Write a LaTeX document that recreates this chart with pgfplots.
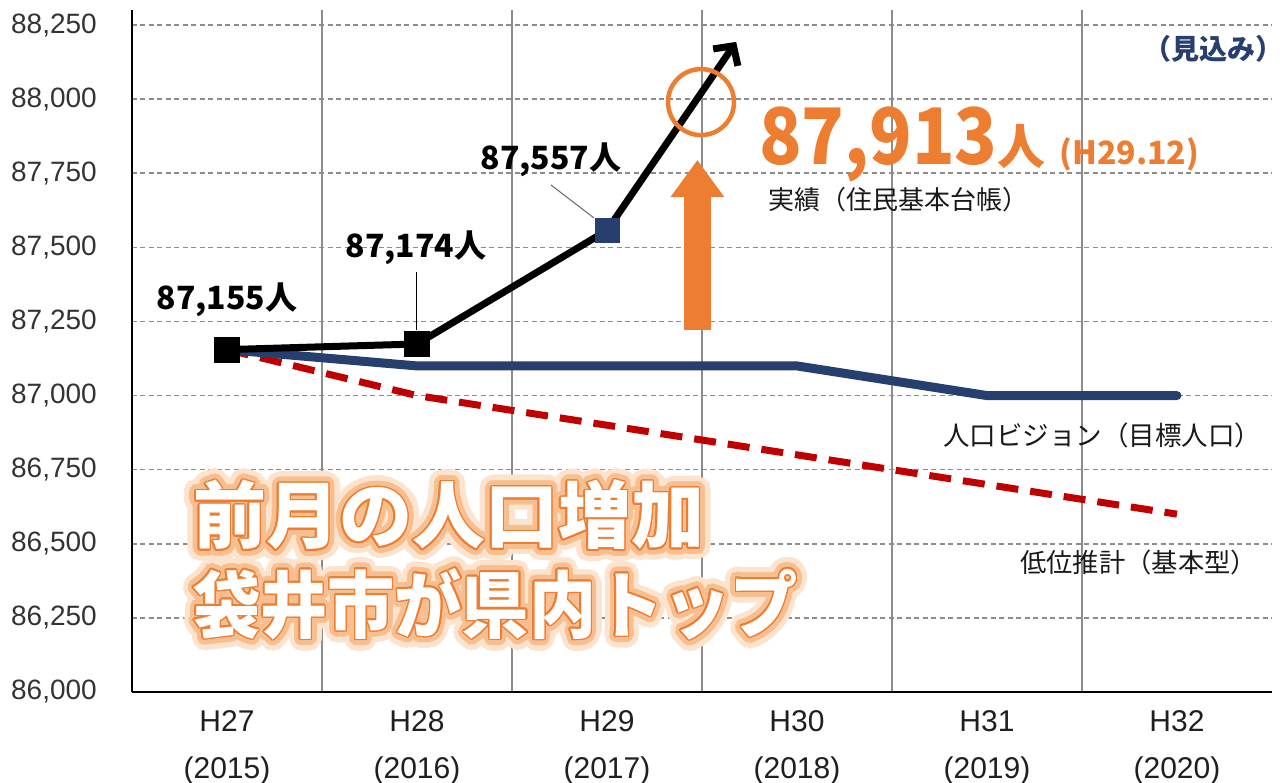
\documentclass[border=0pt]{standalone}
\usepackage{fontspec}
\usepackage{pgfplots}
\pgfplotsset{compat=1.18}
\usetikzlibrary{arrows.meta}
\usepackage{contour}
\setmainfont{Liberation Sans}
\newfontfamily\jp{Noto Sans CJK JP}
\definecolor{navy}{HTML}{263F6E}
\definecolor{dred}{HTML}{C00000}
\definecolor{orng}{HTML}{ED7D31}
\definecolor{glowA}{HTML}{FCE3CE}
\definecolor{glowB}{HTML}{F7BF90}
\definecolor{gridc}{HTML}{8C8C8C}
\newcommand\glow[1]{%
 \makebox[0pt][l]{\contournumber{28}\contourlength{12pt}\color{glowA}\contour{glowA}{#1}}%
 \makebox[0pt][l]{\contournumber{20}\contourlength{6.5pt}\color{glowB}\contour{glowB}{#1}}%
 {\contournumber{16}\contourlength{1.6pt}\color{white}\contour{orng}{#1}}}
\begin{document}
\begin{tikzpicture}
\path[use as bounding box] (-132pt,-90pt) rectangle (1153pt,692pt);
\begin{axis}[
  scale only axis, width=1140pt, height=681.8pt,
  xmin=-0.5, xmax=5.5, ymin=86000, ymax=88300,
  xtick={0,1,2,3,4,5},
  xticklabels={{H27\\(2015)},{H28\\(2016)},{H29\\(2017)},{H30\\(2018)},{H31\\(2019)},{H32\\(2020)}},
  ytick={86000,86250,86500,86750,87000,87250,87500,87750,88000,88250},
  scaled y ticks=false,
  minor xtick={0.5,1.5,2.5,3.5,4.5},
  xminorgrids, ymajorgrids,
  minor grid style={gridc, line width=1.2pt},
  major grid style={gridc, dash pattern=on 5pt off 3.5pt, line width=1.5pt},
  axis x line*=bottom, axis y line*=left,
  axis line style={black, line width=1.5pt, -},
  tick style={draw=none},
  yticklabel style={font=\fontsize{28}{28}\selectfont, text=black!80, anchor=east, inner sep=0pt, xshift=-35pt,
    /pgf/number format/fixed, /pgf/number format/1000 sep={,}},
  xticklabel style={font=\fontsize{30}{47}\selectfont, align=center, anchor=north, inner sep=0pt, yshift=-18pt, text=black!88},
  /pgf/number format/assume math mode=true,
]
\addplot[dred, line width=7pt, dash pattern=on 22pt off 12pt] coordinates {(0,87155)(1,87000)(2,86900)(3,86800)(4,86700)(5,86600)};
\addplot[navy, line width=9pt, line cap=round, line join=round] coordinates {(0,87155)(1,87100)(2,87100)(3,87100)(4,87000)(5,87000)};
\addplot[black, line width=7pt, line join=round] coordinates {(0,87155)(1,87174)(2,87557)};
\addplot[black, line width=7pt, -{Straight Barb[length=14pt, width=30pt]}] coordinates {(2,87557)(2.68,88193)};
\addplot[only marks, mark=square*, mark size=12.5pt, mark options={fill=black, draw=black, line width=0.5pt}] coordinates {(0,87155)(1,87174)};
\addplot[only marks, mark=square*, mark size=12pt, mark options={fill=navy, draw=navy, line width=0.5pt}] coordinates {(2,87557)};
\addplot[only marks, mark=o, mark size=33pt, mark options={draw=orng, line width=4.5pt}] coordinates {(2.495,87990)};
\draw[orng, line width=27pt, -{Triangle[width=51pt,length=37pt]}] (axis cs:2.476,87221) -- (axis cs:2.476,87795);
\end{axis}
\begin{scope}[shift={(-132pt,692pt)}, x=1pt, y=-1pt]
  % leader lines
  \draw[black, line width=1pt] (416,272) -- (416,330);
  \draw[black!60, line width=1pt] (551,185) -- (594,218);
  % data labels
  \node[font=\jp\bfseries\fontsize{32}{32}\selectfont, inner sep=0pt] at (227,300) {87,155人};
  \node[font=\jp\bfseries\fontsize{32}{32}\selectfont, inner sep=0pt] at (416,248) {87,174人};
  \node[font=\jp\bfseries\fontsize{32}{32}\selectfont, inner sep=0pt] at (551,160) {87,557人};
  % big orange value
  \node[anchor=base west, inner sep=0pt, text=orng, font=\jp\bfseries] at (759,165)
    {\scalebox{0.9}[1]{\fontsize{78}{78}\selectfont 87,913}{\fontsize{48}{48}\selectfont 人}\hspace{14pt}{\fontsize{32}{32}\selectfont (H29.12)}};
  \node[anchor=west, inner sep=0pt, font=\jp\fontsize{26}{26}\selectfont, text=black!90] at (768,200) {実績（住民基本台帳）};
  \node[anchor=east, inner sep=0pt, font=\jp\bfseries\fontsize{28}{28}\selectfont, text=navy] at (1284,49) {（見込み）};
  \node[anchor=west, inner sep=0pt, font=\jp\fontsize{26.5}{26.5}\selectfont, text=black!90] at (943,435) {人口ビジョン（目標人口）};
  \node[anchor=west, inner sep=0pt, font=\jp\fontsize{26.3}{26.3}\selectfont, text=black!90] at (1020,563) {低位推計（基本型）};
  % glow headline
  \node[anchor=west, inner sep=0pt, font=\jp\bfseries\fontsize{73}{73}\selectfont] at (193,521) {\glow{前月の人口増加}};
  \node[anchor=west, inner sep=0pt, font=\jp\bfseries\fontsize{73}{73}\selectfont] at (193,610) {\scalebox{0.92}[1]{\glow{袋井市が県内トップ}}};
\end{scope}
\end{tikzpicture}
\end{document}
